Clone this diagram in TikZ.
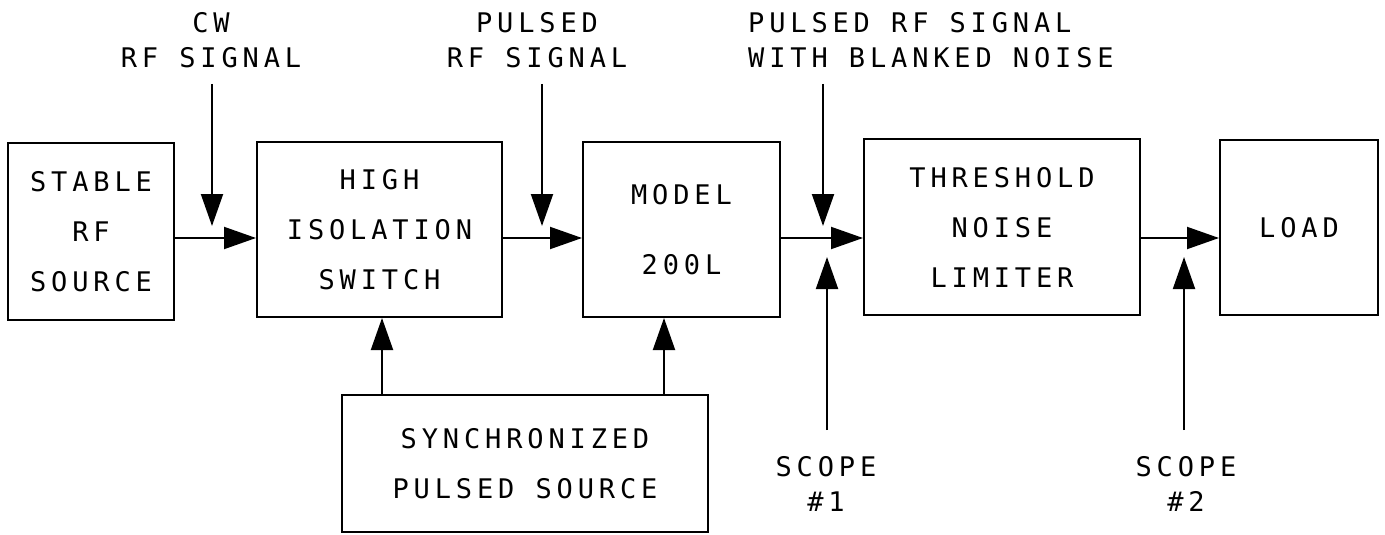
\documentclass[tikz,border=0pt]{standalone}
\usepackage{fontspec}
\newfontfamily\plotfont{DejaVu Sans Mono}[LetterSpace=18]
\usetikzlibrary{
    positioning,
    arrows.meta
}

\tikzset{
    blockbox/.style={
        draw,
        line width=2pt,
        inner sep=0pt,
        align=center,
        font=\plotfont\fontsize{27}{50}\selectfont
    },
    sigtext/.style={
        inner sep=0pt,
        align=center,
        font=\plotfont\fontsize{27}{35}\selectfont
    },
    sigarrow/.style={
        line width=2pt,
        -{Triangle[length=32pt,width=22pt]}
    }
}

\begin{document}
\begin{tikzpicture}[x=1pt,y=-1pt]
    \useasboundingbox (0,0) rectangle (1385,535);
    \coordinate (bus) at (0,238);

    % blocks
    \node[blockbox, minimum width=166pt, minimum height=177pt] (src) at (91,231.5) {STABLE\\RF\\SOURCE};
    \node[blockbox, minimum width=245pt, minimum height=175pt] (high) at (379.5,229.5) {HIGH\\ISOLATION\\SWITCH};
    \node[blockbox, minimum width=197pt, minimum height=175pt] (model) at (681.5,229.5) {MODEL\\[20pt]200L};
    \node[blockbox, minimum width=276pt, minimum height=176pt] (thresh) at (1002,227) {THRESHOLD\\NOISE\\LIMITER};
    \node[blockbox, minimum width=158pt, minimum height=175pt] (load) at (1299,227.5) {LOAD};
    \node[blockbox, minimum width=366pt, minimum height=137pt] (sync) at (525,463.5) {SYNCHRONIZED\\PULSED SOURCE};

    % signal labels
    \node[sigtext] (cwlbl) at (211,40.5) {CW\\RF SIGNAL};
    \node[sigtext] (pulslbl) at (537,40.5) {PULSED\\RF SIGNAL};
    \node[sigtext, align=left, anchor=west] (blanklbl) at (748,40.5) {PULSED RF SIGNAL\\WITH BLANKED NOISE};
    \node[sigtext] (scope1) at (826,484) {SCOPE\\\#1};
    \node[sigtext] (scope2) at (1186,484) {SCOPE\\\#2};

    \coordinate (cwtail) at (212,84);
    \coordinate (cwtip) at (212,226);
    \coordinate (pulstail) at (542,84);
    \coordinate (pulstip) at (542,226);
    \coordinate (blanktail) at (823,84);
    \coordinate (blanktip) at (823,226);
    \coordinate (sc1foot) at (827,430);
    \coordinate (sc1tip) at (827,257);
    \coordinate (sc2foot) at (1184,430);
    \coordinate (sc2tip) at (1184,257);

    % signal chain
    \draw[sigarrow] (src.east |- bus) -- (high.west |- bus);
    \draw[sigarrow] (high.east |- bus) -- (model.west |- bus);
    \draw[sigarrow] (model.east |- bus) -- (thresh.west |- bus);
    \draw[sigarrow] (thresh.east |- bus) -- (load.west |- bus);

    % pulse drive
    \draw[sigarrow] ([xshift=-143pt]sync.north) -- ([xshift=-143pt]sync.north |- high.south);
    \draw[sigarrow] ([xshift=139pt]sync.north) -- ([xshift=139pt]sync.north |- model.south);

    % test points
    \draw[sigarrow] (cwtail) -- (cwtip);
    \draw[sigarrow] (pulstail) -- (pulstip);
    \draw[sigarrow] (blanktail) -- (blanktip);
    \draw[sigarrow] (sc1foot) -- (sc1tip);
    \draw[sigarrow] (sc2foot) -- (sc2tip);
\end{tikzpicture}
\end{document}
